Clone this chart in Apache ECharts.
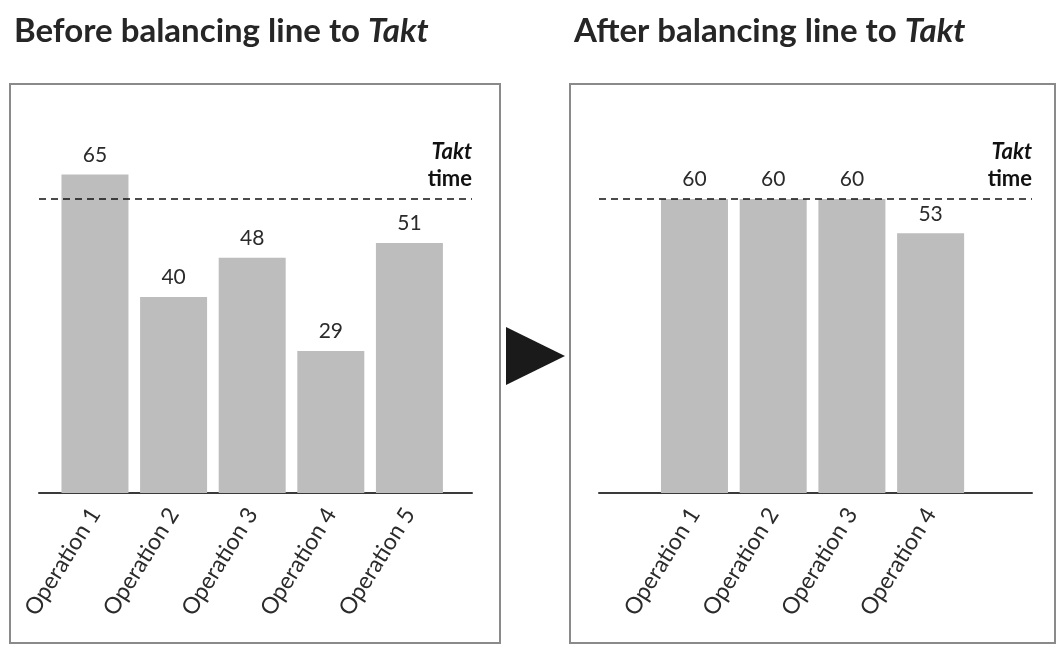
<!DOCTYPE html>
<html>
<head>
<meta charset="utf-8">
<script src="https://cdn.jsdelivr.net/npm/echarts@6/dist/echarts.min.js"></script>
<style>
  html, body { margin: 0; padding: 0; background: #fff; }
  #chart { width: 1058px; height: 646px; }
</style>
</head>
<body>
<div id="chart"></div>
<script>
// Operation cycle times before and after line balancing
const beforeOps = ['Operation 1', 'Operation 2', 'Operation 3', 'Operation 4', 'Operation 5'];
const beforeTimes = [65, 40, 48, 29, 51];
const afterOps = ['Operation 1', 'Operation 2', 'Operation 3', 'Operation 4'];
const afterTimes = [60, 60, 60, 53];
const taktTime = 60;

const FONT = 'Lato, "Open Sans", sans-serif';
const BAR_COLOR = '#bdbdbd';
const TEXT_COLOR = '#2b2b2b';

const chart = echarts.init(document.getElementById('chart'), null, { renderer: 'canvas' });

function xAxisFor(gridIndex, names, min, max) {
  return {
    type: 'value',
    gridIndex: gridIndex,
    min: min,
    max: max,
    splitLine: { show: false },
    axisTick: { show: false },
    axisLine: { show: true, lineStyle: { color: '#3a3a3a', width: 2 } },
    axisLabel: {
      customValues: names.map((_, i) => i),
      formatter: v => names[Math.round(v)],
      rotate: 58,
      margin: 17,
      fontFamily: FONT,
      fontSize: 23,
      color: TEXT_COLOR
    }
  };
}

function yAxisFor(gridIndex) {
  return {
    type: 'value',
    gridIndex: gridIndex,
    min: 0,
    max: 80,
    show: false
  };
}

function barSeries(axisIndex, values) {
  return {
    type: 'bar',
    xAxisIndex: axisIndex,
    yAxisIndex: axisIndex,
    data: values.map((v, i) => [i, v]),
    barWidth: 67,
    itemStyle: { color: BAR_COLOR },
    label: {
      show: true,
      position: 'top',
      distance: 9,
      fontFamily: FONT,
      fontSize: 21,
      color: TEXT_COLOR
    },
    markLine: {
      silent: true,
      symbol: 'none',
      lineStyle: { type: [7, 5], color: '#111', width: 1.5 },
      label: {
        position: 'insideEndTop',
        distance: [0, 7],
        formatter: '{t|Takt}\n{m|time}',
        rich: {
          t: { fontFamily: FONT, fontSize: 22, fontWeight: 'bold', fontStyle: 'italic', color: '#111', align: 'right', lineHeight: 27 },
          m: { fontFamily: FONT, fontSize: 22, fontWeight: 'bold', color: '#111', align: 'right', lineHeight: 27 }
        }
      },
      data: [{ yAxis: taktTime }]
    }
  };
}

const titleStyle = {
  fontFamily: FONT,
  fontSize: 33,
  fontWeight: 'bold',
  color: '#262626',
  rich: {
    i: { fontFamily: FONT, fontSize: 33, fontWeight: 'bold', fontStyle: 'italic', color: '#262626' }
  }
};

chart.setOption({
  animation: false,
  backgroundColor: '#fff',
  title: [
    { text: 'Before balancing line to {i|Takt}', left: 9, top: 10, textStyle: titleStyle },
    { text: 'After balancing line to {i|Takt}', left: 569, top: 10, textStyle: titleStyle }
  ],
  grid: [
    { left: 39, width: 433, top: 101, height: 392 },
    { left: 599, width: 433, top: 101, height: 392 }
  ],
  xAxis: [
    xAxisFor(0, beforeOps, -0.712, 4.796),
    xAxisFor(1, afterOps, -1.213, 4.288)
  ],
  yAxis: [yAxisFor(0), yAxisFor(1)],
  series: [
    barSeries(0, beforeTimes),
    barSeries(1, afterTimes)
  ],
  graphic: [
    {
      type: 'rect',
      shape: { x: 10, y: 84, width: 490, height: 559 },
      style: { fill: 'none', stroke: '#8a8a8a', lineWidth: 2 },
      z: -1
    },
    {
      type: 'rect',
      shape: { x: 570, y: 84, width: 485, height: 559 },
      style: { fill: 'none', stroke: '#8a8a8a', lineWidth: 2 },
      z: -1
    },
    {
      type: 'polygon',
      shape: { points: [[506, 327], [506, 385], [565, 356]] },
      style: { fill: '#1a1a1a' }
    }
  ]
});
</script>
</body>
</html>
